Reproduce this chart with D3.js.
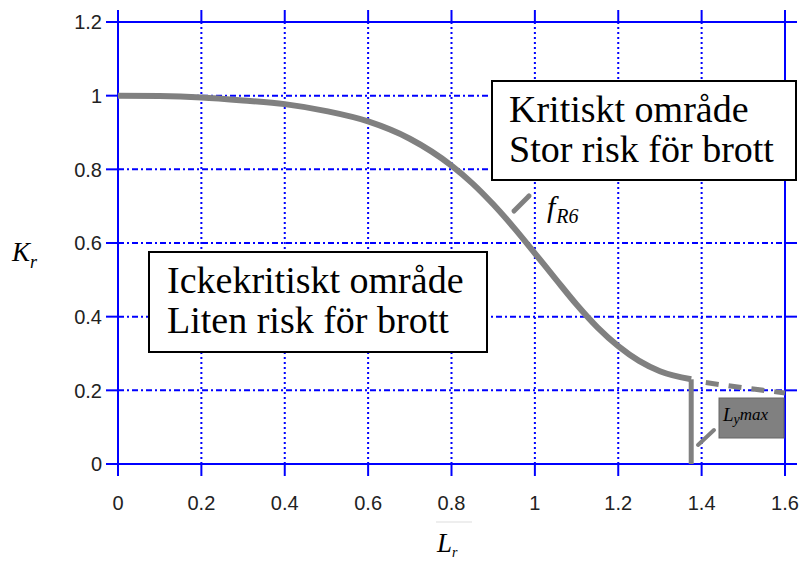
<!DOCTYPE html>
<html><head><meta charset="utf-8">
<script src="https://cdn.jsdelivr.net/npm/d3@7"></script>
<style>body{margin:0;background:#fff}svg{display:block}</style>
</head><body>
<svg id="c" width="800" height="564"></svg>
<script>
// ---- data ----
const xTicks = [0, 0.2, 0.4, 0.6, 0.8, 1, 1.2, 1.4, 1.6];
const yTicks = [0, 0.2, 0.4, 0.6, 0.8, 1, 1.2];
const lr = [0, 0.1, 0.2, 0.3, 0.4, 0.5, 0.6, 0.7, 0.8, 0.85, 0.9, 0.95, 1.0, 1.05, 1.1, 1.15, 1.2, 1.25, 1.3, 1.375];
const kr = [1.0, 0.999, 0.995, 0.987, 0.977, 0.958, 0.930, 0.883, 0.81, 0.762, 0.705, 0.641, 0.572, 0.502, 0.433, 0.371, 0.32, 0.28, 0.252, 0.23];
const lrMax = 1.375;
const lrExt = [1.41, 1.5, 1.6];
const krExt = [0.221, 0.207, 0.193];

const svg = d3.select("#c");
const x = d3.scaleLinear().domain([0, 1.6]).range([118, 785]);
const y = d3.scaleLinear().domain([0, 1.2]).range([464, 22]);
const blue = "#0000ff", gray = "#808080";
const ext = 12;
const fmt = d => String(d);
const sans = "Liberation Sans, Arial, sans-serif";

// grid lines + ticks
const g = svg.append("g");
xTicks.forEach(t => {
  const edge = (t === 0 || t === 1.6);
  g.append("line").attr("x1", x(t)).attr("x2", x(t)).attr("y1", y(1.2)).attr("y2", y(0))
    .attr("stroke", blue).attr("stroke-width", 2).attr("stroke-dasharray", edge ? null : "2,3");
  g.append("line").attr("x1", x(t)).attr("x2", x(t)).attr("y1", y(1.2) - ext).attr("y2", y(1.2))
    .attr("stroke", blue).attr("stroke-width", 2);
  g.append("line").attr("x1", x(t)).attr("x2", x(t)).attr("y1", y(0)).attr("y2", y(0) + ext)
    .attr("stroke", blue).attr("stroke-width", 2);
  g.append("text").attr("x", x(t)).attr("y", 510).attr("text-anchor", "middle")
    .attr("font-family", sans).attr("font-size", 20).attr("fill", "#222")
    .text(fmt(t));
});
yTicks.forEach(t => {
  const edge = (t === 0 || t === 1.2);
  g.append("line").attr("x1", x(0)).attr("x2", x(1.6)).attr("y1", y(t)).attr("y2", y(t))
    .attr("stroke", blue).attr("stroke-width", 2).attr("stroke-dasharray", edge ? null : "6,3,2,3");
  g.append("line").attr("x1", x(0) - ext).attr("x2", x(0)).attr("y1", y(t)).attr("y2", y(t))
    .attr("stroke", blue).attr("stroke-width", 2);
  g.append("line").attr("x1", x(1.6)).attr("x2", x(1.6) + ext).attr("y1", y(t)).attr("y2", y(t))
    .attr("stroke", blue).attr("stroke-width", 2);
  g.append("text").attr("x", 102).attr("y", y(t)).attr("dy", "0.36em").attr("text-anchor", "end")
    .attr("font-family", sans).attr("font-size", 20).attr("fill", "#222")
    .text(fmt(t));
});

// curve
const pts = lr.map((v, i) => [v, kr[i]]);
const line = d3.line().x(d => x(d[0])).y(d => y(d[1])).curve(d3.curveMonotoneX);
svg.append("path").attr("d", line(pts)).attr("fill", "none").attr("stroke", gray)
  .attr("stroke-width", 6).attr("stroke-linejoin", "round");
svg.append("line").attr("x1", x(lrMax)).attr("x2", x(lrMax))
  .attr("y1", y(kr[kr.length - 1])).attr("y2", y(0))
  .attr("stroke", gray).attr("stroke-width", 5);
const ptsExt = lrExt.map((v, i) => [v, krExt[i]]);
svg.append("path").attr("d", line(ptsExt)).attr("fill", "none").attr("stroke", gray)
  .attr("stroke-width", 5).attr("stroke-dasharray", "13,10");

// annotation boxes
const serif = "Liberation Serif, Times New Roman, serif";
function box(x0, y0, w, h, lines, tx, ty, lh) {
  svg.append("rect").attr("x", x0).attr("y", y0).attr("width", w).attr("height", h)
    .attr("fill", "#fff").attr("stroke", "#000").attr("stroke-width", 2);
  lines.forEach((s, i) => svg.append("text").attr("x", tx).attr("y", ty + i * lh)
    .attr("font-family", serif).attr("font-size", 38).attr("fill", "#000").text(s));
}
box(492, 81, 304, 99, ["Kritiskt område", "Stor risk för brott"], 509, 122, 40);
box(149, 252, 338, 100, ["Ickekritiskt område", "Liten risk för brott"], 167, 293, 40);

// f_R6 label
svg.append("line").attr("x1", 514).attr("y1", 211).attr("x2", 529).attr("y2", 196)
  .attr("stroke", gray).attr("stroke-width", 5).attr("stroke-linecap", "round");
const fl = svg.append("text").attr("x", 547).attr("y", 217).attr("font-family", serif)
  .attr("font-style", "italic").attr("font-size", 30).attr("fill", "#000");
fl.append("tspan").text("f");
fl.append("tspan").attr("font-size", 20).attr("dx", 1).attr("dy", 6).text("R6");

// L_ymax label
svg.append("line").attr("x1", 698).attr("y1", 445).attr("x2", 714).attr("y2", 430)
  .attr("stroke", gray).attr("stroke-width", 4).attr("stroke-linecap", "round");
svg.append("rect").attr("x", 719).attr("y", 398).attr("width", 65).attr("height", 40)
  .attr("fill", gray).attr("stroke", "#666").attr("stroke-width", 1);
const ll = svg.append("text").attr("x", 723).attr("y", 421).attr("font-family", serif)
  .attr("font-style", "italic").attr("font-size", 19).attr("fill", "#000");
ll.append("tspan").text("L");
ll.append("tspan").attr("font-size", 14).attr("dy", 3).text("y");
ll.append("tspan").attr("font-size", 17).attr("dy", -4).text("max");

// axis labels
const kl = svg.append("text").attr("x", 12).attr("y", 261).attr("font-family", serif)
  .attr("font-style", "italic").attr("font-size", 27).attr("fill", "#000");
kl.append("tspan").text("K");
kl.append("tspan").attr("font-size", 18).attr("dy", 7).text("r");
svg.append("line").attr("x1", 436).attr("x2", 472).attr("y1", 522).attr("y2", 522)
  .attr("stroke", "#ddd").attr("stroke-width", 1);
const xl = svg.append("text").attr("x", 437).attr("y", 552).attr("font-family", serif)
  .attr("font-style", "italic").attr("font-size", 27).attr("fill", "#000");
xl.append("tspan").text("L");
xl.append("tspan").attr("font-size", 14).attr("dy", 5).text("r");
</script>
</body></html>
